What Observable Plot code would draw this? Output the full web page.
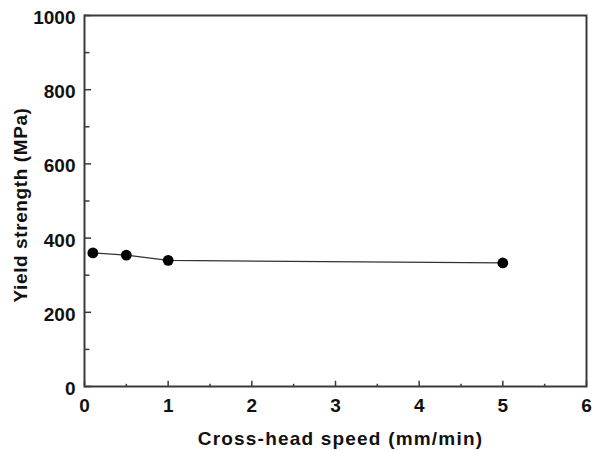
<!DOCTYPE html>
<html><head><meta charset="utf-8">
<script src="https://cdn.jsdelivr.net/npm/d3@7"></script>
<script src="https://cdn.jsdelivr.net/npm/@observablehq/plot@0.6"></script>
<style>
body{margin:0;background:#fff;}
</style></head>
<body><div id="chart"></div>
<script>
const speed = [0.1, 0.5, 1, 5];
const strength = [360, 354, 340, 333];
const xTicks = [0, 1, 2, 3, 4, 5, 6];
const xMinor = [0.5, 1.5, 2.5, 3.5, 4.5, 5.5];
const yTicks = [0, 200, 400, 600, 800, 1000];
const yMinor = [100, 300, 500, 700, 900];

const data = speed.map((s, i) => ({s, v: strength[i]}));
const ink = "#3a3a3a";

const chart = Plot.plot({
  width: 599, height: 451,
  marginLeft: 84, marginRight: 13, marginTop: 15, marginBottom: 65,
  style: {fontFamily: '"Liberation Sans",Arial,sans-serif', fontWeight: "bold", background: "#fff"},
  x: {domain: [0, 6]},
  y: {domain: [0, 1000]},
  marks: [
    Plot.axisX(xTicks, {tickSize: 0, tickPadding: 11.5, fontSize: 19, fill: "#111", label: "Cross-head speed (mm/min)", labelAnchor: "center", labelArrow: "none", labelOffset: 58}),
    Plot.axisY(yTicks, {tickSize: 0, tickPadding: 9, fontSize: 19, fill: "#111", tickFormat: "d", label: "Yield strength (MPa)", labelAnchor: "center", labelArrow: "none", labelOffset: 71}),
    Plot.ruleX(xTicks, {x: d => d, y1: 0, y2: 14, stroke: ink, strokeWidth: 1.5}),
    Plot.ruleX(xMinor, {x: d => d, y1: 0, y2: 6, stroke: ink, strokeWidth: 1.5}),
    Plot.ruleY(yTicks, {y: d => d, x1: 0, x2: 0.085, stroke: ink, strokeWidth: 1.5}),
    Plot.ruleY(yMinor, {y: d => d, x1: 0, x2: 0.065, stroke: ink, strokeWidth: 1.5}),
    Plot.line(data, {x: "s", y: "v", stroke: "#333", strokeWidth: 1.2}),
    Plot.dot(data, {x: "s", y: "v", r: 5.4, fill: "#000", stroke: "none"}),
    Plot.frame({stroke: ink, strokeWidth: 2})
  ]
});
const xl = chart.querySelector('g[aria-label="x-axis label"] text');
if (xl) { xl.setAttribute("font-size", "19"); xl.setAttribute("letter-spacing", "1.2"); xl.setAttribute("dx", "5"); }
const yl = chart.querySelector('g[aria-label="y-axis label"] text');
if (yl) { yl.setAttribute("font-size", "19"); yl.setAttribute("letter-spacing", "0.6"); yl.setAttribute("dx", "-4"); }
chart.querySelectorAll('g[aria-label="y-axis tick label"] text').forEach(t => t.setAttribute("dy", "2.5"));
document.getElementById("chart").appendChild(chart);
</script></body></html>
